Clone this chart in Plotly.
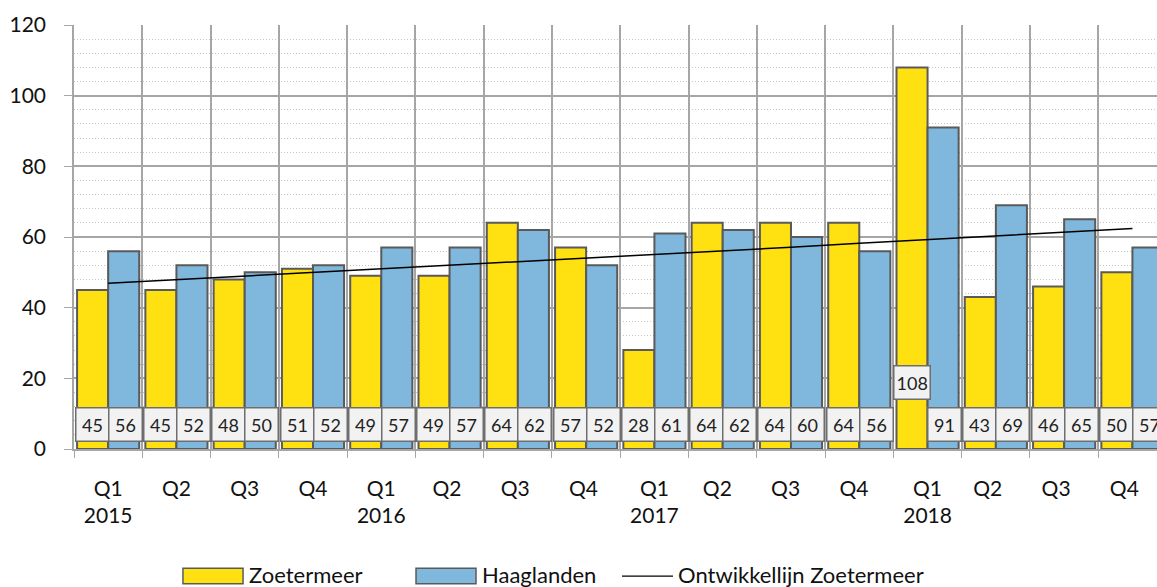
import plotly.graph_objects as go

quarters = ["Q1<br>2015", "Q2", "Q3", "Q4",
            "Q1<br>2016", "Q2 ", "Q3 ", "Q4 ",
            "Q1<br>2017", "Q2  ", "Q3  ", "Q4  ",
            "Q1<br>2018", "Q2   ", "Q3   ", "Q4   "]
zoetermeer = [45, 45, 48, 51, 49, 49, 64, 57, 28, 64, 64, 64, 108, 43, 46, 50]
haaglanden = [56, 52, 50, 52, 57, 57, 62, 52, 61, 62, 60, 56, 91, 69, 65, 57]
ontwikkellijn = [46.9, 47.9, 48.9, 50.0, 51.0, 52.0, 53.0, 54.1,
                 55.1, 56.1, 57.1, 58.2, 59.2, 60.2, 61.2, 62.4]

YELLOW = '#FFE011'
BLUE = '#7FB7DD'
EDGE = '#5a5a5a'
FONT = 'Lato, Open Sans, sans-serif'

fig = go.Figure()

fig.add_trace(go.Bar(
    x=quarters, y=zoetermeer, name='Zoetermeer',
    marker=dict(color=YELLOW, line=dict(color=EDGE, width=2)),
))
fig.add_trace(go.Bar(
    x=quarters, y=haaglanden, name='Haaglanden',
    marker=dict(color=BLUE, line=dict(color=EDGE, width=2)),
))
fig.add_trace(go.Scatter(
    x=quarters, y=ontwikkellijn, mode='lines', name='Ontwikkellijn Zoetermeer',
    line=dict(color='black', width=1.5),
))

# data labels in boxes near the bottom of the bars
for q, z, h in zip(quarters, zoetermeer, haaglanden):
    for val, shift in ((z, -16), (h, 17)):
        big = val > 100
        fig.add_annotation(
            x=q, y=18.7 if big else 7, xref='x', yref='y',
            text=str(val), showarrow=False, xshift=shift,
            width=None if big else 28, height=28,
            bgcolor='#F2F2F2', bordercolor='#6e6e6e', borderwidth=1.5,
            borderpad=2,
            font=dict(size=18, color='#222222', family=FONT),
        )

# custom legend below the plot
legend_items = [
    ('rect', YELLOW, 0.1006, 0.1561, 'Zoetermeer', 0.1600),
    ('rect', BLUE, 0.3158, 0.3712, 'Haaglanden', 0.3745),
    ('line', 'black', 0.5060, 0.5531, 'Ontwikkellijn Zoetermeer', 0.5560),
]
for kind, col, x0, x1, label, tx in legend_items:
    if kind == 'rect':
        fig.add_shape(type='rect', xref='paper', yref='paper',
                      x0=x0, x1=x1, y0=-0.281, y1=-0.318,
                      fillcolor=col, line=dict(color=EDGE, width=1.5))
    else:
        fig.add_shape(type='line', xref='paper', yref='paper',
                      x0=x0, x1=x1, y0=-0.300, y1=-0.300,
                      line=dict(color=col, width=1.2))
    fig.add_annotation(x=tx, y=-0.297, xref='paper', yref='paper',
                       text=label, showarrow=False, xanchor='left', yanchor='middle',
                       font=dict(size=22, color='#111111', family=FONT))

fig.update_layout(
    width=1157, height=587,
    barmode='group', bargap=0.09, bargroupgap=0,
    showlegend=False,
    paper_bgcolor='white', plot_bgcolor='white',
    font=dict(family=FONT, size=21, color='#111111'),
    margin=dict(t=25, l=74, r=0, b=138),
)
fig.update_xaxes(
    type='category', range=[-0.5, 15.36],
    tickson='boundaries', showgrid=True, gridcolor='#a6a6a6', gridwidth=1.5,
    ticks='outside', ticklen=7, tickcolor='#a6a6a6',
    showline=True, linecolor='#a6a6a6', linewidth=1.5,
    ticklabelstandoff=20,
    tickfont=dict(size=21, family=FONT, color='#111111'),
)
fig.update_yaxes(
    range=[0, 120], dtick=20, tick0=0,
    showgrid=True, gridcolor='#a6a6a6', gridwidth=1.5,
    minor=dict(dtick=4, showgrid=True, gridcolor='#c4c4c4', griddash='1px,2px', gridwidth=1),
    ticks='outside', ticklen=8, tickcolor='#a6a6a6',
    showline=True, linecolor='#a6a6a6', linewidth=1.5,
    zeroline=False, ticklabelstandoff=14,
    tickfont=dict(size=21, family=FONT, color='#111111'),
)

fig.write_html("out.html", config={'displayModeBar': False},
               post_script="document.body.style.margin='0';")
